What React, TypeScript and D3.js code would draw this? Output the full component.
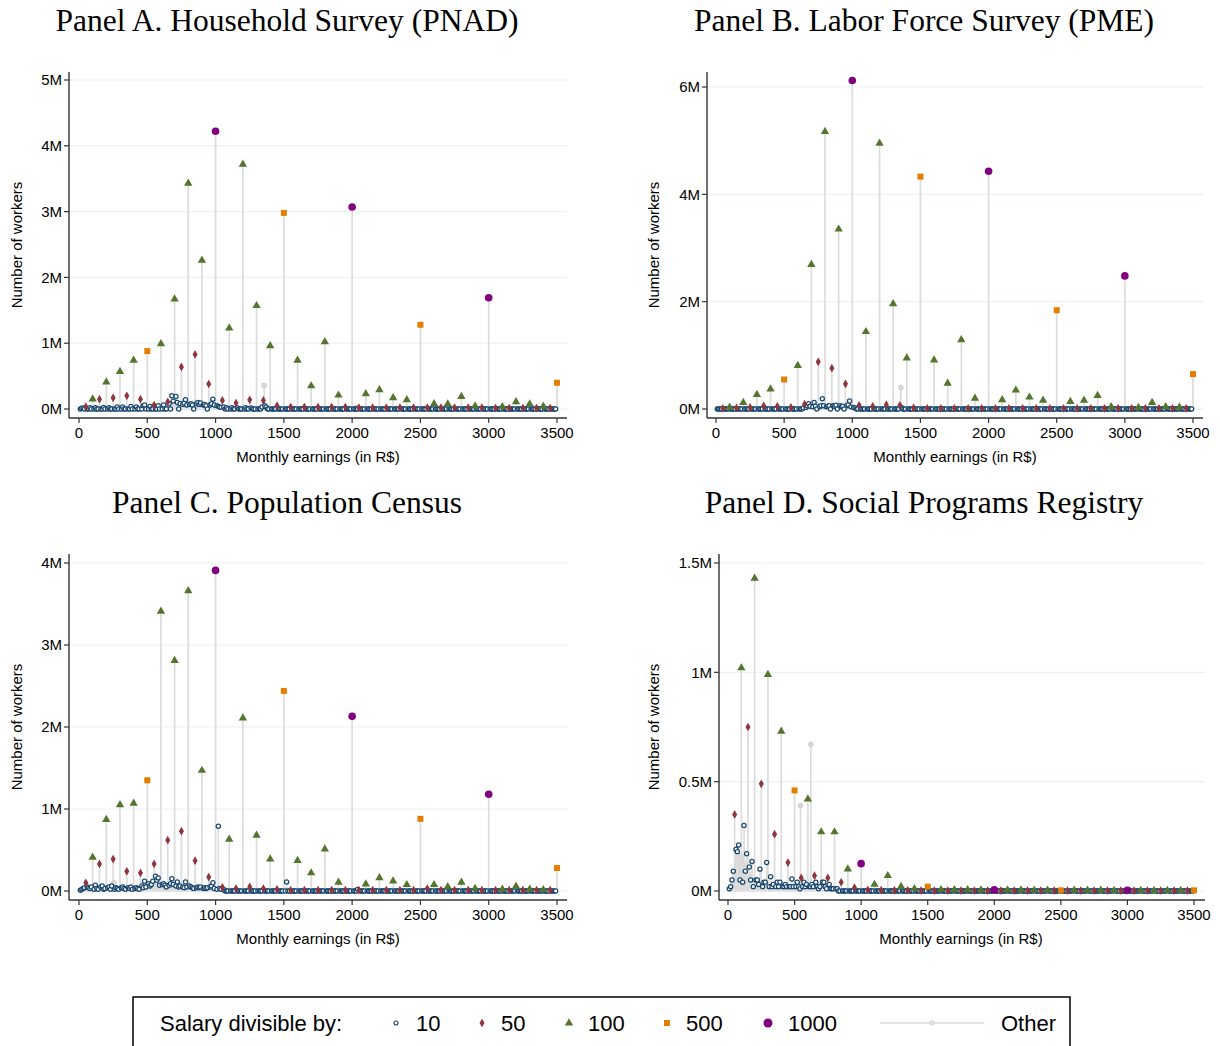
import React from 'react';
import * as d3 from 'd3';

// salary levels (R$) by divisibility class
const levels1000 = [1000, 2000, 3000];
const levels500 = [500, 1500, 2500, 3500];
const levels100 = [100, 200, 300, 400, 600, 700, 800, 900, 1100, 1200, 1300, 1400, 1600, 1700, 1800, 1900,
  2100, 2200, 2300, 2400, 2600, 2700, 2800, 2900, 3100, 3200, 3300, 3400];
const levels50 = [50, 150, 250, 350, 450, 550, 650, 750, 850, 950, 1050, 1150, 1250, 1350, 1450, 1550, 1650,
  1750, 1850, 1950, 2050, 2150, 2250, 2350, 2450, 2550, 2650, 2750, 2850, 2950, 3050, 3150, 3250, 3350, 3450];
const xTicks = [0, 500, 1000, 1500, 2000, 2500, 3000, 3500];

// Panel A. Household Survey (PNAD) - millions of workers
const a1000 = [4.22, 3.07, 1.69];
const a500 = [0.88, 2.98, 1.28, 0.4];
const a100 = [0.15, 0.41, 0.57, 0.74, 0.99, 1.67, 3.43, 2.26, 1.23, 3.72, 1.57, 0.96, 0.74, 0.35, 1.02, 0.21,
  0.23, 0.29, 0.17, 0.14, 0.08, 0.076, 0.19, 0.045, 0.035, 0.11, 0.076, 0.04];
const a50 = [0.035, 0.15, 0.17, 0.2, 0.15, 0.06, 0.11, 0.64, 0.83, 0.38, 0.13, 0.09, 0.14, 0.13, 0.05, 0.03, 0.03,
  0.03, 0.03, 0.03, 0.02, 0.02, 0.02, 0.02, 0.02, 0.02, 0.02, 0.02, 0.02, 0.02, 0.015, 0.015, 0.015, 0.015, 0.015];
const a10: [number, number][] = [[20, 0.01], [30, 0.015], [80, 0.02], [120, 0.02], [180, 0.025], [220, 0.02],
  [280, 0.03], [320, 0.03], [380, 0.04], [420, 0.03], [470, 0.05], [480, 0.06], [520, 0.04], [580, 0.05],
  [620, 0.06], [660, 0.08], [680, 0.2], [690, 0.12], [710, 0.19], [720, 0.1], [740, 0.08], [760, 0.07],
  [770, 0.09], [780, 0.14], [790, 0.06], [810, 0.07], [820, 0.08], [830, 0.06], [860, 0.08], [870, 0.1],
  [880, 0.07], [890, 0.09], [910, 0.06], [920, 0.07], [930, 0.05], [960, 0.06], [970, 0.08], [980, 0.15],
  [990, 0.06], [1010, 0.05], [1020, 0.04], [1030, 0.03], [1040, 0.025], [1060, 0.03], [1080, 0.02],
  [1120, 0.02], [1160, 0.015], [1220, 0.02], [1260, 0.015], [1340, 0.03], [1360, 0.05], [1370, 0.03]];
const aOther: [number, number][] = [[1356, 0.36], [2030, 0.02]];
const aBand: [number, number][] = [[0, 0], [50, 0.01], [200, 0.015], [400, 0.02], [500, 0.03], [600, 0.04],
  [650, 0.06], [700, 0.09], [750, 0.08], [800, 0.07], [850, 0.08], [900, 0.07], [950, 0.06], [1000, 0.05],
  [1050, 0.03], [1100, 0.02], [1300, 0.015], [1400, 0.02], [1500, 0.01], [2000, 0.005], [3500, 0.005]];

// Panel B. Labor Force Survey (PME)
const b1000 = [6.12, 4.43, 2.48];
const b500 = [0.55, 4.33, 1.84, 0.65];
const b100 = [0.03, 0.12, 0.27, 0.37, 0.81, 2.69, 5.17, 3.35, 1.44, 4.95, 1.96, 0.95, 0.91, 0.48, 1.29, 0.2,
  0.17, 0.35, 0.22, 0.16, 0.14, 0.16, 0.25, 0.04, 0.025, 0.12, 0.04, 0.03];
const b50 = [0.01, 0.02, 0.03, 0.06, 0.05, 0.03, 0.09, 0.88, 0.76, 0.47, 0.07, 0.05, 0.08, 0.07, 0.02, 0.01, 0.01,
  0.01, 0.01, 0.01, 0.01, 0.01, 0.01, 0.01, 0.01, 0.01, 0.01, 0.01, 0.01, 0.01, 0.01, 0.01, 0.01, 0.01, 0.01];
const b10: [number, number][] = [[640, 0.02], [660, 0.03], [670, 0.06], [680, 0.1], [690, 0.05], [710, 0.04],
  [720, 0.12], [730, 0.05], [760, 0.04], [770, 0.06], [780, 0.19], [790, 0.06], [810, 0.04], [820, 0.05],
  [830, 0.06], [860, 0.06], [870, 0.05], [880, 0.07], [910, 0.06], [920, 0.04], [930, 0.05], [960, 0.06],
  [970, 0.08], [980, 0.15], [990, 0.04], [1010, 0.03], [1020, 0.02], [1360, 0.03]];
const bOther: [number, number][] = [[1356, 0.4], [10, 0.005]];
const bBand: [number, number][] = [[0, 0], [400, 0.005], [600, 0.01], [650, 0.03], [700, 0.05], [800, 0.06],
  [900, 0.06], [1000, 0.04], [1050, 0.02], [1200, 0.01], [1500, 0.005], [3500, 0.003]];

// Panel C. Population Census
const c1000 = [3.91, 2.13, 1.18];
const c500 = [1.35, 2.44, 0.88, 0.28];
const c100 = [0.41, 0.87, 1.05, 1.07, 3.41, 2.81, 3.66, 1.47, 0.63, 2.11, 0.68, 0.39, 0.37, 0.22, 0.51, 0.105,
  0.085, 0.16, 0.12, 0.077, 0.077, 0.05, 0.105, 0.03, 0.02, 0.057, 0.02, 0.016];
const c50 = [0.1, 0.33, 0.39, 0.24, 0.22, 0.33, 0.62, 0.73, 0.37, 0.17, 0.045, 0.03, 0.05, 0.03, 0.02, 0.01, 0.01,
  0.01, 0.01, 0.01, 0.01, 0.01, 0.01, 0.01, 0.01, 0.03, 0.01, 0.01, 0.01, 0.01, 0.01, 0.01, 0.01, 0.01, 0.01];
const c10: [number, number][] = [[10, 0.01], [20, 0.02], [30, 0.03], [40, 0.04], [60, 0.05], [70, 0.04],
  [80, 0.03], [90, 0.05], [110, 0.02], [120, 0.07], [130, 0.03], [140, 0.02], [160, 0.05], [170, 0.06],
  [180, 0.02], [190, 0.03], [210, 0.04], [220, 0.05], [230, 0.02], [240, 0.06], [260, 0.02], [270, 0.04],
  [280, 0.03], [290, 0.02], [310, 0.04], [320, 0.05], [330, 0.03], [340, 0.02], [360, 0.04], [370, 0.03],
  [380, 0.05], [390, 0.02], [410, 0.03], [420, 0.04], [430, 0.03], [440, 0.02], [460, 0.06], [470, 0.04],
  [480, 0.12], [490, 0.05], [510, 0.09], [520, 0.06], [530, 0.08], [540, 0.12], [560, 0.18], [570, 0.13],
  [580, 0.16], [590, 0.07], [610, 0.08], [620, 0.09], [630, 0.07], [640, 0.05], [660, 0.07], [670, 0.09],
  [680, 0.15], [690, 0.08], [710, 0.06], [720, 0.11], [730, 0.05], [740, 0.06], [760, 0.05], [770, 0.04],
  [780, 0.11], [790, 0.05], [810, 0.06], [820, 0.05], [830, 0.04], [840, 0.03], [860, 0.04], [870, 0.05],
  [880, 0.04], [890, 0.05], [910, 0.03], [920, 0.04], [930, 0.03], [940, 0.04], [960, 0.05], [970, 0.06],
  [980, 0.1], [990, 0.03], [1010, 0.02], [1020, 0.79], [1030, 0.03], [1040, 0.02], [1060, 0.02],
  [1520, 0.11], [2040, 0.02]];
const cOther: [number, number][] = [[255, 0.1]];
const cBand: [number, number][] = [[0, 0.005], [200, 0.02], [400, 0.02], [500, 0.03], [600, 0.06], [700, 0.05],
  [800, 0.04], [1000, 0.03], [1100, 0.01], [1500, 0.005], [3500, 0.003]];

// Panel D. Social Programs Registry
const d1000 = [0.125, 0.005, 0.003];
const d500 = [0.46, 0.02, 0.003, 0.003];
const d100 = [1.02, 1.43, 0.99, 0.73, 0.42, 0.27, 0.27, 0.1, 0.03, 0.07, 0.02, 0.01, 0.006, 0.005, 0.005, 0.004,
  0.004, 0.004, 0.003, 0.003, 0.003, 0.003, 0.003, 0.002, 0.002, 0.002, 0.002, 0.002];
const d50 = [0.35, 0.75, 0.49, 0.26, 0.13, 0.06, 0.07, 0.06, 0.04, 0.015, 0.005, 0.004, 0.003, 0.003, 0.002,
  0.002, 0.002, 0.002, 0.002, 0.002, 0.002, 0.002, 0.002, 0.002, 0.002, 0.002, 0.002, 0.002, 0.002, 0.002,
  0.002, 0.002, 0.002, 0.002, 0.002];
const d10: [number, number][] = [[10, 0.01], [20, 0.02], [30, 0.05], [40, 0.09], [60, 0.19], [70, 0.18],
  [80, 0.21], [90, 0.05], [110, 0.04], [120, 0.3], [130, 0.09], [140, 0.17], [160, 0.11], [170, 0.05],
  [180, 0.135], [190, 0.02], [210, 0.05], [220, 0.05], [230, 0.03], [240, 0.1], [260, 0.02], [270, 0.04],
  [280, 0.04], [290, 0.13], [310, 0.02], [320, 0.065], [330, 0.02], [340, 0.03], [360, 0.02], [370, 0.04],
  [380, 0.02], [390, 0.04], [410, 0.02], [420, 0.02], [430, 0.03], [440, 0.02], [460, 0.02], [470, 0.02],
  [480, 0.055], [490, 0.02], [510, 0.02], [520, 0.04], [530, 0.02], [540, 0.01], [560, 0.02], [570, 0.04],
  [580, 0.02], [590, 0.03], [610, 0.02], [620, 0.02], [630, 0.03], [640, 0.02], [660, 0.04], [670, 0.02],
  [680, 0.01], [690, 0.02], [710, 0.04], [720, 0.04], [730, 0.02], [740, 0.01], [760, 0.03], [770, 0.01],
  [780, 0.01], [790, 0.01], [810, 0.01], [820, 0.01]];
const dOther: [number, number][] = [[545, 0.39], [622, 0.67]];
const dBand: [number, number][] = [[0, 0.01], [20, 0.04], [60, 0.15], [100, 0.18], [140, 0.12], [200, 0.06],
  [300, 0.04], [400, 0.03], [500, 0.03], [600, 0.03], [700, 0.02], [800, 0.01], [1000, 0.005], [1500, 0.002],
  [3500, 0.001]];

const yTicksA = [0, 1, 2, 3, 4, 5];
const yTicksB = [0, 2, 4, 6];
const yTicksC = [0, 1, 2, 3, 4];
const yTicksD = [0, 0.5, 1, 1.5];

const NAVY = '#1a476f';
const MAROON = '#90353b';
const GREEN = '#55752f';
const ORANGE = '#e37e00';
const PURPLE = '#800080';
const STEM = '#dcdcdc';
const GRID = '#eaf2f3';
const SANS = '"Liberation Sans", Arial, sans-serif';
const SERIF = '"Liberation Serif", "Times New Roman", serif';

interface PanelDef {
  title: string;
  v1000: number[];
  v500: number[];
  v100: number[];
  v50: number[];
  v10: [number, number][];
  other: [number, number][];
  band: [number, number][];
  yTicks: number[];
  yMax: number;
  yTop: number;      // pixel of yMax
  yZero: number;     // pixel of 0
  xLeft: number;     // pixel of salary 0
  xRight: number;    // pixel of salary 3500
  axisX: number;
  axisTop: number;
  axisBottom: number;
  axisRight: number;
  titleX: number;
  titleY: number;
  xTitleX: number;
  yTitleX: number;
}

const panels: PanelDef[] = [
  { title: 'Panel A. Household Survey (PNAD)', v1000: a1000, v500: a500, v100: a100, v50: a50, v10: a10,
    other: aOther, band: aBand, yTicks: yTicksA, yMax: 5, yTop: 80, yZero: 409, xLeft: 79, xRight: 557,
    axisX: 69, axisTop: 72, axisBottom: 418, axisRight: 567, titleX: 287, titleY: 31, xTitleX: 318, yTitleX: 22 },
  { title: 'Panel B. Labor Force Survey (PME)', v1000: b1000, v500: b500, v100: b100, v50: b50, v10: b10,
    other: bOther, band: bBand, yTicks: yTicksB, yMax: 6, yTop: 87, yZero: 409, xLeft: 716, xRight: 1193,
    axisX: 707, axisTop: 72, axisBottom: 418, axisRight: 1203, titleX: 924, titleY: 31, xTitleX: 955, yTitleX: 659 },
  { title: 'Panel C. Population Census', v1000: c1000, v500: c500, v100: c100, v50: c50, v10: c10,
    other: cOther, band: cBand, yTicks: yTicksC, yMax: 4, yTop: 563, yZero: 891, xLeft: 79, xRight: 557,
    axisX: 69, axisTop: 554, axisBottom: 900, axisRight: 567, titleX: 287, titleY: 513, xTitleX: 318, yTitleX: 22 },
  { title: 'Panel D. Social Programs Registry', v1000: d1000, v500: d500, v100: d100, v50: d50, v10: d10,
    other: dOther, band: dBand, yTicks: yTicksD, yMax: 1.5, yTop: 563, yZero: 891, xLeft: 728, xRight: 1194,
    axisX: 719, axisTop: 554, axisBottom: 900, axisRight: 1205, titleX: 924, titleY: 513, xTitleX: 961, yTitleX: 659 },
];

const diamond = d3.symbol().type(d3.symbolDiamond).size(22)()!;
const triangle = d3.symbol().type(d3.symbolTriangle).size(30)()!;

const fmtM = (v: number) => `${v}M`;

const Panel: React.FC<{ p: PanelDef }> = ({ p }) => {
  const x = d3.scaleLinear().domain([0, 3500]).range([p.xLeft, p.xRight]);
  const y = d3.scaleLinear().domain([0, p.yMax]).range([p.yZero, p.yTop]);

  const tenMap = new Map(p.v10);
  const tens = d3.range(10, 3500, 10).filter(s => s % 50 !== 0).map(s => [s, tenMap.get(s) ?? 0] as [number, number]);
  const fifties = levels50.map((s, i) => [s, p.v50[i]] as [number, number]);
  const hundreds = levels100.map((s, i) => [s, p.v100[i]] as [number, number]);
  const fivehund = levels500.map((s, i) => [s, p.v500[i]] as [number, number]);
  const thousands = levels1000.map((s, i) => [s, p.v1000[i]] as [number, number]);
  const all = [...p.other, ...tens, ...fifties, ...hundreds, ...fivehund, ...thousands];

  const band = d3.area<[number, number]>()
    .x(d => x(d[0]))
    .y0(y(0))
    .y1(d => y(d[1]))
    .curve(d3.curveMonotoneX)(p.band)!;

  const midY = (p.axisTop + p.axisBottom) / 2;

  return (
    <g>
      <text x={p.titleX} y={p.titleY} textAnchor="middle" fontFamily={SERIF} fontSize={31.5} fill="#000">{p.title}</text>
      {/* gridlines */}
      {p.yTicks.map(t => (
        <line key={`g${t}`} x1={p.axisX} x2={p.axisRight} y1={y(t)} y2={y(t)} stroke={GRID} strokeWidth={1.2} />
      ))}
      {/* "other" mass near the baseline */}
      <path d={band} fill="#d6d6d6" />
      {/* stems */}
      {all.filter(d => d[1] > 0.012).map((d, i) => (
        <line key={`s${i}`} x1={x(d[0])} x2={x(d[0])} y1={y(0)} y2={y(d[1])} stroke={STEM} strokeWidth={1.7} />
      ))}
      {/* baseline trace */}
      <line x1={x(0)} x2={x(3500)} y1={y(0)} y2={y(0)} stroke="#e3e3e3" strokeWidth={2} />
      {p.other.map((d, i) => (
        <circle key={`o${i}`} cx={x(d[0])} cy={y(d[1])} r={2.4} fill="#d9d9d9" stroke="#c6c6c6" strokeWidth={0.8} />
      ))}
      {tens.map((d, i) => (
        <circle key={`t${i}`} cx={x(d[0])} cy={y(d[1])} r={2.1} fill="#fff" stroke={NAVY} strokeWidth={1.25} />
      ))}
      {fifties.map((d, i) => (
        <path key={`f${i}`} d={diamond} transform={`translate(${x(d[0])},${y(d[1])})`} fill={MAROON} />
      ))}
      {hundreds.map((d, i) => (
        <path key={`h${i}`} d={triangle} transform={`translate(${x(d[0])},${y(d[1])})`} fill={GREEN} />
      ))}
      {fivehund.map((d, i) => (
        <rect key={`q${i}`} x={x(d[0]) - 3} y={y(d[1]) - 3} width={6} height={6} fill={ORANGE} />
      ))}
      {thousands.map((d, i) => (
        <circle key={`k${i}`} cx={x(d[0])} cy={y(d[1])} r={3.8} fill={PURPLE} />
      ))}
      {/* axes */}
      <line x1={p.axisX} x2={p.axisX} y1={p.axisTop} y2={p.axisBottom} stroke="#333" strokeWidth={1.4} />
      <line x1={p.axisX} x2={p.axisRight} y1={p.axisBottom} y2={p.axisBottom} stroke="#333" strokeWidth={1.4} />
      {p.yTicks.map(t => (
        <g key={`y${t}`}>
          <line x1={p.axisX - 5} x2={p.axisX} y1={y(t)} y2={y(t)} stroke="#333" strokeWidth={1.2} />
          <text x={p.axisX - 7} y={y(t)} dy="0.35em" textAnchor="end" fontFamily={SANS} fontSize={15}>{fmtM(t)}</text>
        </g>
      ))}
      {xTicks.map(t => (
        <g key={`x${t}`}>
          <line x1={x(t)} x2={x(t)} y1={p.axisBottom} y2={p.axisBottom + 5} stroke="#333" strokeWidth={1.2} />
          <text x={x(t)} y={p.axisBottom + 20} textAnchor="middle" fontFamily={SANS} fontSize={15}>{t}</text>
        </g>
      ))}
      <text x={p.xTitleX} y={p.axisBottom + 44} textAnchor="middle" fontFamily={SANS} fontSize={15}>Monthly earnings (in R$)</text>
      <text transform={`translate(${p.yTitleX},${midY}) rotate(-90)`} textAnchor="middle" fontFamily={SANS} fontSize={15}>Number of workers</text>
    </g>
  );
};

const Legend: React.FC = () => (
  <g fontFamily={SANS} fontSize={22}>
    <rect x={133} y={997} width={937} height={60} fill="#fff" stroke="#000" strokeWidth={1.5} />
    <text x={160} y={1031}>Salary divisible by:</text>
    <circle cx={396} cy={1023} r={2} fill="#fff" stroke={NAVY} strokeWidth={1.1} />
    <text x={416} y={1031}>10</text>
    <path d={diamond} transform="translate(482,1023)" fill={MAROON} />
    <text x={501} y={1031}>50</text>
    <path d={triangle} transform="translate(569,1023)" fill={GREEN} />
    <text x={588} y={1031}>100</text>
    <rect x={664} y={1020} width={6} height={6} fill={ORANGE} />
    <text x={686} y={1031}>500</text>
    <circle cx={768} cy={1023} r={4.5} fill={PURPLE} />
    <text x={788} y={1031}>1000</text>
    <line x1={880} x2={984} y1={1023} y2={1023} stroke="#dcdcdc" strokeWidth={1.5} />
    <circle cx={932} cy={1023} r={2.2} fill="#e8e8e8" stroke="#c6c6c6" strokeWidth={0.8} />
    <text x={1001} y={1031}>Other</text>
  </g>
);

export default function App() {
  return (
    <svg width={1220} height={1046} style={{ position: 'absolute', left: 0, top: 0, background: '#fff' }}>
      <rect width={1220} height={1046} fill="#fff" />
      {panels.map(p => <Panel key={p.title} p={p} />)}
      <Legend />
    </svg>
  );
}
